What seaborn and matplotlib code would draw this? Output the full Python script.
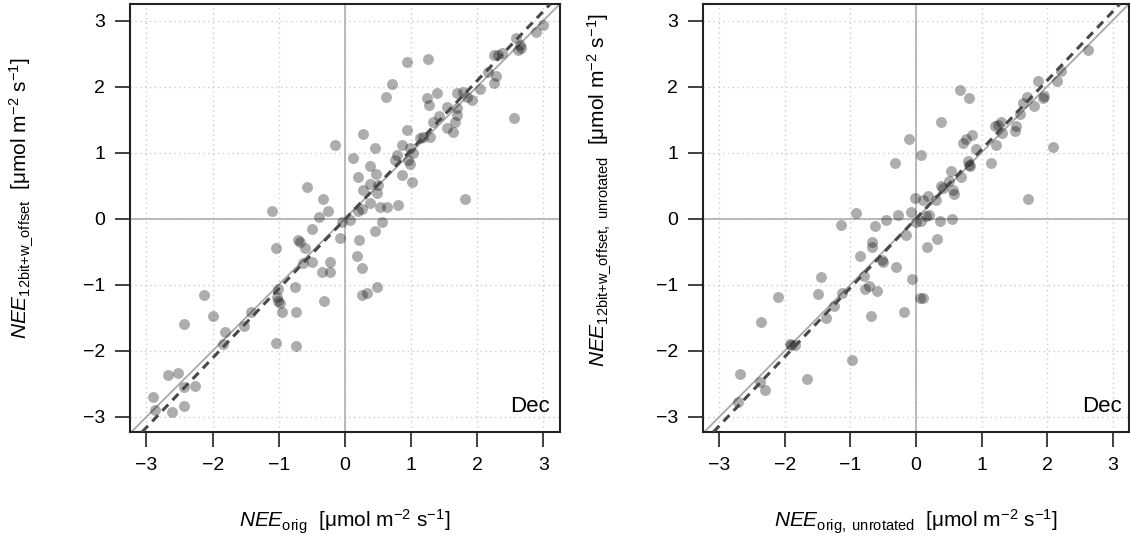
import matplotlib.pyplot as plt
import seaborn as sns
import pandas as pd

# left panel: NEE_orig vs NEE_12bit+w_offset
left_x = [2.99, 2.89, 2.59, 2.64, 2.66, 2.61, 2.26, 2.31, 2.38, 2.16, 2.29, 2.26, 2.04, 2.56,
          1.70, 1.78, 1.84, 1.92, 1.55, 1.69, 1.70, 1.66, 1.54, 1.63, 1.39, 1.24, 1.27, 1.25,
          0.94, 0.71, 0.62, 1.33, 1.42, 1.18, 1.28, 1.13, 0.94, 0.87, 0.98, 1.03, 0.95, 0.98,
          1.01, 0.87, 0.78, 0.75, 1.81, 0.27, 0.45, 0.12, 0.38, 0.20, 0.47, 0.38, 0.50, 0.27,
          0.48, -0.15, -0.57, -0.33, -1.10, -0.26, -0.39, 0.26, 0.38, 0.53, 0.63, 0.80, -0.05,
          0.08, 0.56, -0.50, 0.20, 0.45, -0.08, 0.21, -0.71, -0.68, -0.60, -1.04, 0.18, 0.26,
          -0.63, -0.50, -0.23, -0.35, -0.23, -1.01, -1.03, -0.98, -0.95, -1.01, -0.75, -0.74,
          -0.32, 0.26, 0.33, 0.48, -1.04, -0.74, -1.42, -1.52, -1.81, -1.84, -2.13, -1.99,
          -2.43, -2.68, -2.52, -2.26, -2.44, -2.90, -2.87, -2.61, -2.44]
left_y = [2.93, 2.83, 2.73, 2.63, 2.58, 2.56, 2.48, 2.48, 2.51, 2.22, 2.16, 2.05, 1.96, 1.53,
          1.90, 1.92, 1.84, 1.80, 1.69, 1.68, 1.57, 1.47, 1.37, 1.31, 1.90, 1.83, 1.72, 2.42,
          2.37, 2.04, 1.84, 1.47, 1.56, 1.24, 1.24, 1.22, 1.34, 1.12, 1.07, 1.00, 0.89, 0.82,
          0.56, 0.66, 0.97, 0.89, 0.30, 1.28, 1.07, 0.92, 0.80, 0.63, 0.68, 0.53, 0.51, 0.44,
          0.39, 1.12, 0.48, 0.30, 0.11, 0.12, 0.03, 0.14, 0.24, 0.18, 0.18, 0.20, -0.05,
          -0.02, -0.05, -0.16, 0.12, -0.19, -0.29, -0.33, -0.32, -0.36, -0.44, -0.44, -0.57, -0.74,
          -0.67, -0.65, -0.65, -0.81, -0.81, -1.07, -1.18, -1.27, -1.42, -1.25, -1.04, -1.41,
          -1.24, -1.16, -1.12, -1.03, -1.89, -1.93, -1.41, -1.63, -1.72, -1.90, -1.16, -1.47,
          -1.60, -2.37, -2.34, -2.54, -2.55, -2.70, -2.90, -2.92, -2.84]

# right panel: unrotated
right_x = [2.62, 2.22, 2.15, 1.86, 1.94, 1.96, 1.80, 1.70, 1.64, 1.59, 1.52, 1.51, 2.09, 1.71,
           1.21, 1.25, 1.30, 1.31, 1.22, 1.14, 0.67, 0.81, 0.38, 0.71, 0.76, 0.85, 0.91, 0.81,
           0.83, 0.80, 0.68, 0.54, 0.51, 0.38, 0.41, 0.56, 0.58, -0.10, 0.08, -0.32, -0.02,
           0.11, 0.18, 0.30, -0.91, -0.27, -0.07, -0.45, 0.20, 0.16, 0.37, 0.55, 0.00, 0.08,
           -1.15, -0.63, -0.15, 0.32, 0.17, -0.67, -0.67, -0.86, -0.52, -0.51, -0.30, -0.06,
           -0.79, -0.71, -0.78, -0.60, -1.45, -1.13, -1.49, -1.25, -1.37, -0.68, -0.18, 0.06,
           0.11, -2.11, -2.37, -1.92, -1.85, -1.90, -0.98, -1.66, -2.68, -2.38, -2.31, -2.72]
right_y = [2.56, 2.24, 2.09, 2.09, 1.83, 1.86, 1.70, 1.84, 1.75, 1.58, 1.41, 1.33, 1.08, 0.30,
           1.40, 1.42, 1.46, 1.29, 1.12, 0.85, 1.95, 1.82, 1.47, 1.14, 1.20, 1.27, 1.06, 0.81,
           0.79, 0.87, 0.63, 0.72, 0.57, 0.49, 0.47, 0.44, 0.38, 1.20, 0.96, 0.84, 0.32,
           0.29, 0.34, 0.29, 0.09, 0.06, 0.10, -0.02, 0.06, 0.04, -0.04, -0.01, -0.05, -0.04,
           -0.10, -0.11, -0.25, -0.31, -0.43, -0.35, -0.43, -0.57, -0.63, -0.66, -0.73, -0.92,
           -0.87, -1.02, -1.07, -1.09, -0.89, -1.13, -1.14, -1.32, -1.51, -1.47, -1.42, -1.20,
           -1.20, -1.18, -1.57, -1.90, -1.92, -1.91, -2.14, -2.43, -2.35, -2.47, -2.59, -2.77]

# regression fits (slope, intercept)
left_fit = (1.05, -0.01)
right_fit = (1.045, 0.0)

ticks = [-3, -2, -1, 0, 1, 2, 3]
month = "Dec"
unit = "  [μmol m$^{-2}$ s$^{-1}$]"
left_xlabel = r"$\mathit{NEE}_{\mathrm{orig}}$" + unit
left_ylabel = r"$\mathit{NEE}_{\mathrm{12bit{+}w\_offset}}$" + unit
right_xlabel = r"$\mathit{NEE}_{\mathrm{orig,\ unrotated}}$" + unit
right_ylabel = r"$\mathit{NEE}_{\mathrm{12bit{+}w\_offset,\ unrotated}}$" + unit

sns.set_style("white")
plt.rcParams['font.family'] = ['Liberation Sans', 'DejaVu Sans']
plt.rcParams['mathtext.fontset'] = 'custom'
plt.rcParams['mathtext.rm'] = 'Liberation Sans'
plt.rcParams['mathtext.it'] = 'Liberation Sans:italic'
plt.rcParams['mathtext.bf'] = 'Liberation Sans:bold'
plt.rcParams['text.color'] = 'black'
plt.rcParams['axes.labelcolor'] = 'black'
plt.rcParams['xtick.color'] = 'black'
plt.rcParams['ytick.color'] = 'black'

fig = plt.figure(figsize=(11.3, 5.48), dpi=100)
ax_l = fig.add_axes([0.1150, 0.2117, 0.3805, 0.781])
ax_r = fig.add_axes([0.6221, 0.2117, 0.3770, 0.781])

panels = [
    (ax_l, left_x, left_y, left_fit, left_xlabel, left_ylabel, (-0.252, 0.547), 0.977),
    (ax_r, right_x, right_y, right_fit, right_xlabel, right_ylabel, (-0.244, 0.565), 0.984),
]

for ax, xs, ys, fit, xlab, ylab, ycoords, dec_x in panels:
    df = pd.DataFrame({"x": xs, "y": ys})
    ax.set_xlim(-3.25, 3.25)
    ax.set_ylim(-3.23, 3.25)
    # dotted grid + zero lines
    for t in ticks:
        ax.axvline(t, color='#cccccc', lw=1.0, ls=(0, (1, 2.5)), zorder=0)
        ax.axhline(t, color='#cccccc', lw=1.0, ls=(0, (1, 2.5)), zorder=0)
    ax.axvline(0, color='#b4b4b4', lw=1.3, zorder=1)
    ax.axhline(0, color='#b4b4b4', lw=1.3, zorder=1)
    # 1:1 line
    ax.axline((0, 0), slope=1, color='#a8a8a8', lw=1.3, zorder=2)
    sns.scatterplot(data=df, x="x", y="y", ax=ax, color='black', alpha=0.32,
                    s=62, linewidth=0, zorder=3)
    # regression line
    ax.axline((0, fit[1]), slope=fit[0], color='#484848', lw=2.2,
              dashes=(2.8, 2.0), zorder=4)
    ax.text(dec_x, 0.035, month, transform=ax.transAxes, ha='right', va='bottom',
            fontsize=16, color='black')
    ax.set_xticks(ticks)
    ax.set_yticks(ticks)
    ax.set_xticklabels([f"{t}" if t >= 0 else f"\u2212{-t}" for t in ticks], fontsize=14)
    ax.set_yticklabels([f"{t}" if t >= 0 else f"\u2212{-t}" for t in ticks], fontsize=14)
    ax.tick_params(axis='both', direction='out', length=11, width=1.3, color='#333333',
                   labelcolor='black', bottom=True, left=True)
    ax.tick_params(axis='x', pad=7)
    ax.tick_params(axis='y', pad=7)
    for sp in ax.spines.values():
        sp.set_color('#222222')
        sp.set_linewidth(1.5)
    ax.set_xlabel(xlab, fontsize=15, va='center', color='black')
    ax.xaxis.set_label_coords(0.5, -0.21)
    ax.set_ylabel(ylab, fontsize=15, va='center', color='black')
    ax.yaxis.set_label_coords(*ycoords)

plt.savefig("out.png", dpi=100)
